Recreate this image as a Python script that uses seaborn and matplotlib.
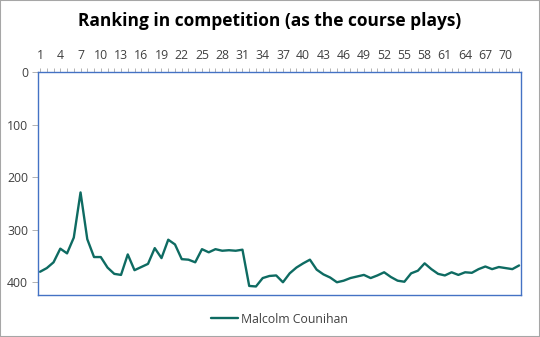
import matplotlib
matplotlib.use("Agg")
import matplotlib.pyplot as plt
import seaborn as sns
import pandas as pd
from matplotlib.patches import Rectangle

rounds = list(range(1, 73))
ranking = [380, 373, 362, 336, 345, 315, 229, 318, 352, 352,
           372, 384, 386, 347, 377, 371, 365, 335, 354, 319,
           328, 356, 357, 362, 337, 343, 337, 340, 339, 340,
           338, 407, 408, 392, 388, 387, 400, 383, 372, 364,
           357, 376, 385, 391, 400, 397, 392, 389, 386, 392,
           387, 381, 390, 397, 399, 383, 378, 364, 375, 384,
           387, 381, 386, 381, 382, 375, 370, 375, 371, 373,
           375, 368]
series_name = "Malcolm Counihan"
title = "Ranking in competition (as the course plays)"
y_ticks = [0, 100, 200, 300, 400]

df = pd.DataFrame({"Round": rounds, "Ranking": ranking, "Player": series_name})

sns.set_style("white")
plt.rcParams["font.family"] = ["Open Sans", "DejaVu Sans"]

fig = plt.figure(figsize=(5.4, 3.37), dpi=100)
ax = fig.add_axes([0.0698, 0.125, 0.8952, 0.661])

sns.lineplot(data=df, x="Round", y="Ranking", hue="Player",
             palette=["#0E6B62"], linewidth=1.7, ax=ax)

ax.set_xlim(0.65, 72.3)
ax.set_ylim(424, 0)
ax.set_yticks(y_ticks)
ax.set_yticklabels([str(v) for v in y_ticks], fontsize=8.8, color="#404040")

ax.xaxis.tick_top()
ax.set_xticks(rounds)
ax.set_xticklabels([str(r) if (r - 1) % 3 == 0 else "" for r in rounds],
                   fontsize=8.8, color="#404040")
ax.tick_params(axis="x", length=3, width=0.6, color="#A6A6A6", pad=4)
ax.tick_params(axis="y", length=4, width=0.6, color="#A6A6A6", pad=3, left=True)
ax.set_xlabel("")
ax.set_ylabel("")

for s in ax.spines.values():
    s.set_visible(True)
    s.set_color("#4472C4")
    s.set_linewidth(1.0)

fig.text(0.5, 1 - 21 / 337, title, fontsize=12.5, fontweight="bold",
         color="#000000", ha="center", va="center")

leg = ax.legend(loc="upper center", bbox_to_anchor=(0.5, -0.03), frameon=False,
                fontsize=8.8, handlelength=2.2, handletextpad=0.3)
for t in leg.get_texts():
    t.set_color("#404040")

fig.patches.append(Rectangle((0, 0), 1, 1, transform=fig.transFigure,
                             fill=False, edgecolor="#A6A6A6", linewidth=1.5))

fig.savefig("out.png", dpi=100)
